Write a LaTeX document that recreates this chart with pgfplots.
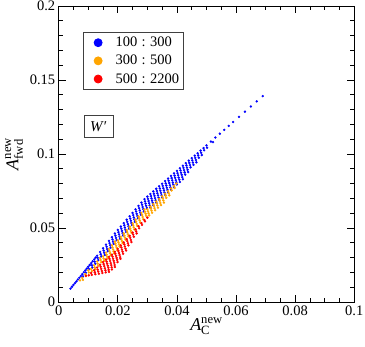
\documentclass[border=0pt]{standalone}
\usepackage{fontspec}
\setmainfont{Liberation Serif}
\usepackage{amsmath}
\usepackage{pgfplots}
\pgfplotsset{compat=1.18}
\definecolor{gblue}{RGB}{0,0,255}
\definecolor{gorange}{RGB}{255,165,0}
\definecolor{gred}{RGB}{255,0,0}
\newcommand{\legtxt}[2]{#1\hspace{0.3em}:\hspace{0.3em}#2}
\pgfplotsset{
    legmark/.style={only marks, mark=*, #1,
        legend image code/.code={
            \path[draw=none, fill=none] (0pt,-7.5pt) rectangle (28pt,7.5pt);
            \draw[only marks, mark=*, mark size=4pt, #1]
                plot coordinates {(12.5pt,0pt)};}},
}
\begin{document}
\begin{tikzpicture}
\begin{axis}[
    scale only axis,
    width=295.6pt, height=296pt,
    xmin=0, xmax=0.1, ymin=0, ymax=0.2,
    xtick={0,0.02,0.04,0.06,0.08,0.1},
    ytick={0,0.05,0.1,0.15,0.2},
    minor x tick num=3, minor y tick num=4,
    tick align=inside,
    major tick length=7pt, minor tick length=4pt,
    scaled ticks=false,
    /pgf/number format/fixed,
    /pgf/number format/precision=2,
    /pgf/number format/assume math mode=true,
    tick label style={font=\fontsize{14.5}{16}\selectfont},
    axis line style={line width=0.8pt},
    every tick/.style={line width=0.8pt, black},
    label style={font=\fontsize{18}{20}\selectfont},
    xlabel={$\textit{A}_{\text{C}}^{\text{new}}$},
    ylabel={$\textit{A}_{\text{fwd}}^{\text{new}}$},
    xlabel style={yshift=5pt},
    legend style={at={(axis cs:0.0083,0.1826)}, anchor=north west,
        draw=black!75, line width=0.8pt,
        font=\fontsize{14.5}{18}\selectfont,
        inner xsep=2pt, inner ysep=3pt, row sep=3pt, column sep=0pt},
    legend cell align=left,
    mark size=1pt,
]

% 100 : 300
\addplot[only marks, mark=*, gblue, forget plot] coordinates {
(0.004,0.0090) (0.0045,0.0103) (0.005,0.0115) (0.0055,0.0127) (0.006,0.0139)
(0.0065,0.0152) (0.007,0.0164) (0.0075,0.0176) (0.008,0.0188) (0.0085,0.0201)
(0.009,0.0213) (0.0095,0.0226) (0.010,0.0238) (0.0105,0.0250) (0.011,0.0263)
(0.0115,0.0275) (0.012,0.0288) (0.0125,0.0300) (0.013,0.0313)
(0.014,0.0338) (0.015,0.0363) (0.016,0.0388) (0.017,0.0413) (0.018,0.0438)
(0.019,0.0463) (0.020,0.0487) (0.021,0.0510) (0.022,0.0533) (0.023,0.0556)
(0.024,0.0579) (0.025,0.0602) (0.026,0.0626) (0.027,0.0649) (0.028,0.0672)
(0.029,0.0695) (0.030,0.0712) (0.031,0.0730) (0.032,0.0747) (0.033,0.0765)
(0.034,0.0782) (0.035,0.0799) (0.036,0.0817) (0.037,0.0834) (0.038,0.0852)
(0.039,0.0869) (0.040,0.0886) (0.041,0.0904) (0.042,0.0921) (0.043,0.0938)
(0.044,0.0955) (0.045,0.0972) (0.046,0.0989) (0.047,0.1005) (0.048,0.1023)
(0.049,0.1040) (0.050,0.1058) (0.0515,0.1084) (0.053,0.1111) (0.0545,0.1137)
(0.056,0.1163) (0.0575,0.1190) (0.059,0.1216) (0.061,0.1251) (0.063,0.1286)
(0.065,0.1321) (0.067,0.1356) (0.069,0.1391)
(0.0082,0.0173) (0.0092,0.0198) (0.0102,0.0223)
(0.0112,0.0248) (0.0114,0.0233)
(0.0122,0.0273) (0.0124,0.0258)
(0.0132,0.0298) (0.0134,0.0283)
(0.0142,0.0323) (0.0144,0.0308)
(0.0152,0.0348) (0.0154,0.0333) (0.0156,0.0318)
(0.0162,0.0373) (0.0164,0.0358) (0.0166,0.0343)
(0.0172,0.0398) (0.0174,0.0383) (0.0176,0.0368)
(0.0182,0.0423) (0.0184,0.0408) (0.0186,0.0393)
(0.0192,0.0448) (0.0194,0.0433) (0.0196,0.0418)
(0.0202,0.0472) (0.0204,0.0457) (0.0206,0.0442) (0.0208,0.0427)
(0.0212,0.0495) (0.0214,0.0480) (0.0216,0.0465) (0.0218,0.0450)
(0.0222,0.0518) (0.0224,0.0503) (0.0226,0.0488) (0.0228,0.0473)
(0.0232,0.0541) (0.0234,0.0526) (0.0236,0.0511) (0.0238,0.0496)
(0.0242,0.0564) (0.0244,0.0549) (0.0246,0.0534) (0.0248,0.0519)
(0.0252,0.0587) (0.0254,0.0572) (0.0256,0.0557) (0.0258,0.0542)
(0.0262,0.0611) (0.0264,0.0596) (0.0266,0.0581) (0.0268,0.0566)
(0.0272,0.0634) (0.0274,0.0619) (0.0276,0.0604) (0.0278,0.0589)
(0.0282,0.0657) (0.0284,0.0642) (0.0286,0.0627) (0.0288,0.0612)
(0.0292,0.0680) (0.0294,0.0665) (0.0296,0.0650) (0.0298,0.0635)
(0.0302,0.0697) (0.0304,0.0682) (0.0306,0.0667) (0.0308,0.0652) (0.0310,0.0637)
(0.0312,0.0715) (0.0314,0.0700) (0.0316,0.0685) (0.0318,0.0670) (0.0320,0.0655)
(0.0322,0.0732) (0.0324,0.0717) (0.0326,0.0702) (0.0328,0.0687) (0.0330,0.0672)
(0.0332,0.0750) (0.0334,0.0735) (0.0336,0.0720) (0.0338,0.0705) (0.0340,0.0690)
(0.0342,0.0767) (0.0344,0.0752) (0.0346,0.0737) (0.0348,0.0722) (0.0350,0.0707)
(0.0352,0.0784) (0.0354,0.0769) (0.0356,0.0754) (0.0358,0.0739) (0.0360,0.0724)
(0.0362,0.0802) (0.0364,0.0787) (0.0366,0.0772) (0.0368,0.0757) (0.0370,0.0742)
(0.0372,0.0819) (0.0374,0.0804) (0.0376,0.0789) (0.0378,0.0774) (0.0380,0.0759)
(0.0382,0.0837) (0.0384,0.0822) (0.0386,0.0807) (0.0388,0.0792) (0.0390,0.0777)
(0.0392,0.0854) (0.0394,0.0839) (0.0396,0.0824) (0.0398,0.0809) (0.0400,0.0794)
(0.0402,0.0871) (0.0404,0.0856) (0.0406,0.0841) (0.0408,0.0826) (0.0410,0.0811)
(0.0412,0.0889) (0.0414,0.0874) (0.0416,0.0859) (0.0418,0.0844) (0.0420,0.0829)
(0.0422,0.0906) (0.0424,0.0891) (0.0426,0.0876) (0.0428,0.0861)
(0.0432,0.0923) (0.0434,0.0908) (0.0436,0.0893) (0.0438,0.0878)
(0.0442,0.0940) (0.0444,0.0925) (0.0446,0.0910)
(0.0452,0.0957) (0.0454,0.0942) (0.0456,0.0927)
(0.0462,0.0974) (0.0464,0.0959) (0.0466,0.0944)
(0.0472,0.0990) (0.0474,0.0975)
(0.0482,0.1008) (0.0484,0.0993)
(0.0492,0.1025) (0.0502,0.1043) (0.0522,0.1080)
};

% 300 : 500
\addplot[only marks, mark=*, gorange, forget plot] coordinates {
(0.0072,0.0146)
(0.0080,0.0163) (0.0082,0.0150)
(0.0090,0.0188) (0.0092,0.0175)
(0.0100,0.0213) (0.0102,0.0199)
(0.0110,0.0223) (0.0112,0.0209)
(0.0120,0.0248) (0.0122,0.0234) (0.0124,0.0222)
(0.0130,0.0273) (0.0132,0.0259) (0.0134,0.0245)
(0.0140,0.0298) (0.0142,0.0284) (0.0144,0.0270)
(0.0150,0.0308) (0.0152,0.0294) (0.0154,0.0280)
(0.0160,0.0333) (0.0162,0.0319) (0.0164,0.0305) (0.0166,0.0295)
(0.0170,0.0358) (0.0172,0.0344) (0.0174,0.0330) (0.0176,0.0316)
(0.0180,0.0383) (0.0182,0.0369) (0.0184,0.0355) (0.0186,0.0341) (0.0188,0.0328)
(0.0190,0.0408) (0.0192,0.0394) (0.0194,0.0380) (0.0196,0.0366) (0.0198,0.0350)
(0.0200,0.0417) (0.0202,0.0403) (0.0204,0.0389) (0.0206,0.0375)
(0.0210,0.0440) (0.0212,0.0426) (0.0214,0.0412) (0.0216,0.0398)
(0.0220,0.0463) (0.0222,0.0449) (0.0224,0.0435) (0.0226,0.0421)
(0.0230,0.0486) (0.0232,0.0472) (0.0234,0.0458) (0.0236,0.0444)
(0.0240,0.0509) (0.0242,0.0495) (0.0244,0.0481) (0.0246,0.0467)
(0.0250,0.0532) (0.0252,0.0518) (0.0254,0.0504) (0.0256,0.0490)
(0.0260,0.0556) (0.0262,0.0542) (0.0264,0.0528) (0.0266,0.0514)
(0.0270,0.0579) (0.0272,0.0565) (0.0274,0.0551) (0.0276,0.0537)
(0.0280,0.0602) (0.0282,0.0588) (0.0284,0.0574) (0.0286,0.0560)
(0.0290,0.0625) (0.0292,0.0611) (0.0294,0.0597) (0.0296,0.0583)
(0.0300,0.0627) (0.0302,0.0613) (0.0304,0.0599) (0.0306,0.0585)
(0.0310,0.0645) (0.0312,0.0631) (0.0314,0.0617) (0.0316,0.0603)
(0.0320,0.0662) (0.0322,0.0648) (0.0324,0.0634) (0.0326,0.0620)
(0.0330,0.0680) (0.0332,0.0666) (0.0334,0.0652) (0.0336,0.0638)
(0.0340,0.0697) (0.0342,0.0683) (0.0344,0.0669) (0.0346,0.0655)
(0.0350,0.0714) (0.0352,0.0700) (0.0354,0.0686) (0.0356,0.0672)
(0.0360,0.0732) (0.0362,0.0718) (0.0364,0.0704)
(0.0370,0.0749) (0.0372,0.0735) (0.0374,0.0721)
(0.0380,0.0767) (0.0382,0.0753)
(0.0390,0.0784) (0.0392,0.0770)
(0.0398,0.0800)
};

% 500 : 2200
\addplot[only marks, mark=*, gred, forget plot] coordinates {
(0.0092,0.0178) (0.0102,0.0180)
(0.0110,0.0196) (0.0112,0.0183)
(0.0120,0.0215) (0.0122,0.0201) (0.0124,0.0188)
(0.0130,0.0233) (0.0132,0.0219) (0.0134,0.0205) (0.0136,0.0191)
(0.0140,0.0252) (0.0142,0.0238) (0.0144,0.0224) (0.0146,0.0210) (0.0148,0.0196)
(0.0150,0.0270) (0.0152,0.0256) (0.0154,0.0242) (0.0156,0.0228) (0.0158,0.0214) (0.0159,0.0200)
(0.0160,0.0287) (0.0162,0.0273) (0.0164,0.0259) (0.0166,0.0245) (0.0168,0.0231) (0.0169,0.0217) (0.0170,0.0204)
(0.0170,0.0305) (0.0172,0.0291) (0.0174,0.0277) (0.0176,0.0263) (0.0178,0.0249) (0.0179,0.0235) (0.0180,0.0220)
(0.0180,0.0320) (0.0182,0.0306) (0.0184,0.0292) (0.0186,0.0278) (0.0188,0.0264) (0.0189,0.0250) (0.0190,0.0237)
(0.0190,0.0340) (0.0192,0.0326) (0.0194,0.0312) (0.0196,0.0298) (0.0198,0.0284) (0.0199,0.0270)
(0.0200,0.0359) (0.0202,0.0345) (0.0204,0.0331) (0.0206,0.0317) (0.0208,0.0303) (0.0209,0.0292)
(0.0210,0.0382) (0.0212,0.0368) (0.0214,0.0354) (0.0216,0.0340) (0.0218,0.0326)
(0.0220,0.0403) (0.0222,0.0389) (0.0224,0.0375) (0.0226,0.0361) (0.0228,0.0348)
(0.0230,0.0425) (0.0232,0.0411) (0.0234,0.0397) (0.0236,0.0383)
(0.0240,0.0447) (0.0242,0.0433) (0.0244,0.0419) (0.0246,0.0405)
(0.0250,0.0469) (0.0252,0.0455) (0.0254,0.0441)
(0.0260,0.0491) (0.0262,0.0477) (0.0264,0.0463)
(0.0270,0.0512) (0.0272,0.0498)
(0.0280,0.0533) (0.0282,0.0521)
(0.0290,0.0554) (0.0292,0.0545)
(0.0300,0.0570)
};

\addlegendimage{legmark=gblue}
\addlegendentry{\legtxt{100}{300}}
\addlegendimage{legmark=gorange}
\addlegendentry{\legtxt{300}{500}}
\addlegendimage{legmark=gred}
\addlegendentry{\legtxt{500}{2200}}

\node[draw=black!75, line width=0.8pt, font=\fontsize{15}{18}\selectfont,
      minimum width=29pt, minimum height=22.7pt, inner sep=2pt]
      at (axis cs:0.01353,0.1187) {\textit{W}′};

\coordinate (ll) at (rel axis cs:0,0);
\coordinate (ur) at (rel axis cs:1,1);
\end{axis}
\pgfresetboundingbox
\path ([shift={(-58.7pt,-45pt)}]ll) rectangle ([shift={(10.7pt,6pt)}]ur);
\end{tikzpicture}
\end{document}
